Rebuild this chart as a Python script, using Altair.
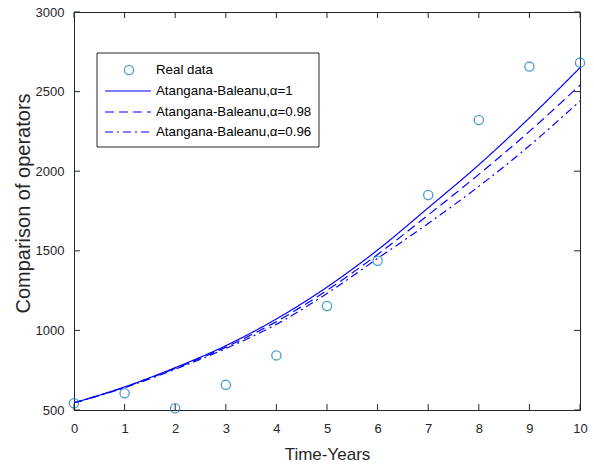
import altair as alt
import pandas as pd

# ---- data ----
years = list(range(11))
real_data = [542, 605, 511, 658, 843, 1153, 1438, 1850, 2322, 2657, 2682]
ab_100 = [545, 645, 766, 904, 1072, 1272, 1505, 1770, 2040, 2335, 2650]
ab_098 = [545, 643, 761, 895, 1055, 1252, 1477, 1725, 1980, 2250, 2541]
ab_096 = [545, 640, 756, 886, 1038, 1232, 1452, 1672, 1905, 2160, 2441]
series_names = ["Atangana-Baleanu,α=1", "Atangana-Baleanu,α=0.98", "Atangana-Baleanu,α=0.96"]
legend_labels = ["Real data"] + series_names
x_ticks = list(range(11))
y_ticks = [500, 1000, 1500, 2000, 2500, 3000]

W, H = 506, 398
AX = "#262626"
BLUE = "#0000FF"
FONT = "Liberation Sans, Arial, Helvetica, sans-serif"
dashes = [[1, 0], [9, 5], [8, 4, 2, 4]]

lines_df = pd.DataFrame({
    "x": years * 3,
    "value": ab_100 + ab_098 + ab_096,
    "series": [series_names[0]] * 11 + [series_names[1]] * 11 + [series_names[2]] * 11,
})
real_df = pd.DataFrame({"x": years, "value": real_data})
xt_df = pd.DataFrame({"x": x_ticks})
yt_df = pd.DataFrame({"value": y_ticks})

xscale = alt.Scale(domain=[0, 10], nice=False, zero=False)
yscale = alt.Scale(domain=[500, 3000], nice=False, zero=False)
xaxis = alt.Axis(values=x_ticks, ticks=False, tickSize=0, grid=False, labelPadding=12,
                 labelFlush=False, format="d",
                 labelFont=FONT, labelFontSize=13, labelColor=AX, domainColor=AX,
                 title="Time-Years", titleFont=FONT, titleFontSize=17, titleFontWeight="normal",
                 titleColor=AX, titleBaseline="alphabetic", titleY=49)
yaxis = alt.Axis(values=y_ticks, ticks=False, tickSize=0, grid=False, labelPadding=10,
                 labelFlush=False, format="d",
                 labelFont=FONT, labelFontSize=13, labelColor=AX, domainColor=AX,
                 title="Comparison of operators", titleFont=FONT, titleFontSize=20,
                 titleFontWeight="normal", titleColor=AX, titleBaseline="alphabetic",
                 titleX=-45, titleY=191, titleAngle=270)

X = alt.X("x:Q", scale=xscale, axis=xaxis)
Y = alt.Y("value:Q", scale=yscale, axis=yaxis)

curves = alt.Chart(lines_df).mark_line(strokeWidth=1.2, interpolate="monotone").encode(
    x=X, y=Y,
    stroke=alt.value(BLUE),
    strokeDash=alt.StrokeDash("series:N", scale=alt.Scale(domain=series_names, range=dashes), legend=None),
)
points = alt.Chart(real_df).mark_point(shape="circle", filled=False, size=85,
                                       strokeWidth=1.3).encode(x=X, y=Y, stroke=alt.value("#0072BD"))

# inward ticks on all four sides
xt_bottom = alt.Chart(xt_df).mark_rule(strokeWidth=1).encode(
    x=X, y=alt.value(H), y2=alt.value(H - 6), stroke=alt.value(AX))
xt_top = alt.Chart(xt_df).mark_rule(strokeWidth=1).encode(
    x=X, y=alt.value(0), y2=alt.value(6), stroke=alt.value(AX))
yt_left = alt.Chart(yt_df).mark_rule(strokeWidth=1).encode(
    y=Y, x=alt.value(0), x2=alt.value(6), stroke=alt.value(AX))
yt_right = alt.Chart(yt_df).mark_rule(strokeWidth=1).encode(
    y=Y, x=alt.value(W), x2=alt.value(W - 6), stroke=alt.value(AX))

# legend box
one = pd.DataFrame({"k": [0]})
legend_layers = [
    alt.Chart(one).mark_rect(fill="white", stroke=AX, strokeWidth=1).encode(
        x=alt.value(23), x2=alt.value(245), y=alt.value(41), y2=alt.value(135))
]
row_y = [58, 79, 100, 120]
legend_layers.append(
    alt.Chart(one).mark_point(shape="circle", filled=False, size=85, strokeWidth=1.3).encode(
        x=alt.value(55), y=alt.value(row_y[0]), stroke=alt.value("#0072BD")))
for i, d in enumerate(dashes):
    legend_layers.append(
        alt.Chart(one).mark_rule(strokeWidth=1.2, strokeDash=d).encode(
            x=alt.value(31), x2=alt.value(77), y=alt.value(row_y[i + 1]), stroke=alt.value(BLUE)))
for i, lab in enumerate(legend_labels):
    legend_layers.append(
        alt.Chart(one).mark_text(align="left", baseline="middle", font=FONT, fontSize=13.3).encode(
            x=alt.value(82), y=alt.value(row_y[i]), text=alt.value(lab), fill=alt.value("black")))

chart = alt.layer(
    curves, points, xt_bottom, xt_top, yt_left, yt_right, *legend_layers
).properties(
    width=W, height=H,
    autosize=alt.AutoSizeParams(type="none"),
    padding={"left": 74, "top": 12, "right": 14, "bottom": 57},
    background="white",
).configure_view(stroke=AX, strokeWidth=1)

chart.save("out.html", embed_options={"renderer": "svg", "actions": False})
